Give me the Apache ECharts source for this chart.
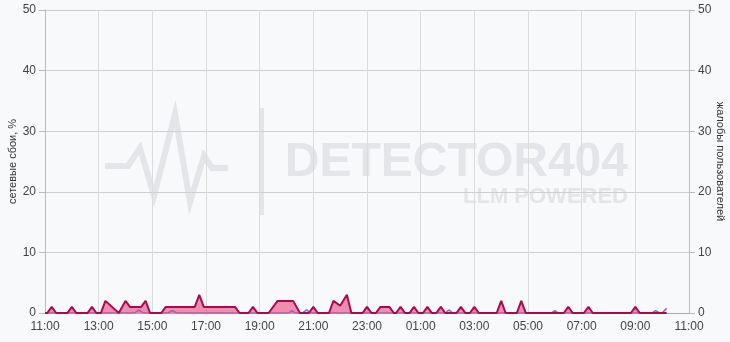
<!DOCTYPE html>
<html>
<head>
<meta charset="utf-8">
<script src="https://cdn.jsdelivr.net/npm/echarts@6/dist/echarts.min.js"></script>
<style>
html,body{margin:0;padding:0;background:#f8f9fb;}
#chart{width:730px;height:342px;}
</style>
</head>
<body>
<div id="chart"></div>
<script>
const xTickLabels = ['11:00','13:00','15:00','17:00','19:00','21:00','23:00','01:00','03:00','05:00','07:00','09:00','11:00'];

const failTimes = ['11:00','11:05','11:15','11:25','11:50','12:00','12:10','12:35','12:45','12:55',
  '13:05','13:15','13:45','14:00','14:10','14:35','14:45','14:55','15:20','15:30',
  '16:35','16:45','16:55','18:05','18:15','18:35','18:45','18:55','19:20','19:40',
  '20:15','20:30','20:50','21:00','21:10','21:35','21:45','22:00','22:15','22:25',
  '22:50','23:00','23:10','23:20','23:30','23:50','00:00','00:05','00:15','00:25',
  '00:35','00:45','00:55','01:05','01:15','01:25','01:35','01:45','01:55','02:20',
  '02:30','02:40','02:50','03:00','03:10','03:50','04:00','04:10','04:35','04:45',
  '04:55','06:20','06:30','06:40','07:05','07:15','07:25','08:50','09:00','09:10','10:10'];
const failValues = [0,0,1,0,0,1,0,0,1,0,
  0,2,0,2,1,1,2,0,0,1,
  1,3,1,1,0,0,1,0,0,2,
  2,0,0,1,0,0,2,1.2,3,0,
  0,1,0,0,1,1,0,0,1,0,
  0,1,0,0,1,0,0,1,0,0,
  1,0,0,1,0,0,2,0,0,2,
  0,0,1,0,0,1,0,0,1,0,0];

const complaintTimes = ['11:00','14:20','14:30','14:40','15:35','15:45','15:55','20:05','20:12','20:20',
  '20:35','20:45','20:55','01:55','02:03','02:12','05:52','06:00','06:08','09:37',
  '09:45','09:55','10:00','10:10'];
const complaintValues = [0,0,0.5,0,0,0.4,0,0,0.4,0,
  0,0.5,0,0,0.5,0,0,0.4,0,0,
  0.4,0,0,0.8];

function toOffset(t){
  const p = t.split(':').map(Number);
  let v = p[0]*60 + p[1] - 660;
  if (v < 0) v += 1440;
  return v;
}
const failData = failTimes.map((t,i)=>[toOffset(t), failValues[i]]);
const complaintData = complaintTimes.map((t,i)=>[toOffset(t), complaintValues[i]]);

const chart = echarts.init(document.getElementById('chart'), null, {renderer:'canvas'});
const wm = '#e3e5e9';
chart.setOption({
  backgroundColor: '#f8f9fb',
  animation: false,
  textStyle: {fontFamily: 'Liberation Sans, Arial, sans-serif'},
  graphic: [
    {type:'polyline', silent:true, z:0, shape:{points:[[105,166],[128,166],[140,148],[154,196],[175,114],[190,202],[204,156],[212,168],[228,168]]}, style:{stroke:wm, lineWidth:6, fill:null, lineJoin:'miter'}},
    {type:'rect', silent:true, z:0, shape:{x:260, y:108, width:4, height:107}, style:{fill:wm}},
    {type:'text', silent:true, z:0, right:102, top:139, style:{text:'DETECTOR404', fill:wm, font:'bold 48px "Liberation Sans", Arial, sans-serif'}},
    {type:'text', silent:true, z:0, right:102, top:186, style:{text:'LLM POWERED', fill:wm, font:'bold 22px "Liberation Sans", Arial, sans-serif'}}
  ],
  grid: {left:45, right:41, top:10, bottom:29, containLabel:false, outerBoundsMode:'none'},
  xAxis: {
    type:'value', min:0, max:1440, interval:120,
    axisLine:{show:true, lineStyle:{color:'#aaa'}},
    axisTick:{show:false},
    axisLabel:{color:'#444', fontSize:12, margin:8, formatter:v=>xTickLabels[Math.round(v/120)]},
    splitLine:{show:true, lineStyle:{color:'#dcdcdc'}}
  },
  yAxis: [
    {
      type:'value', min:0, max:50, interval:10, position:'left',
      name:'сетевые сбои, %', nameLocation:'middle', nameGap:27, nameMoveOverlap:false,
      nameTextStyle:{color:'#333', fontSize:11},
      axisLine:{show:true, lineStyle:{color:'#bbb'}},
      axisTick:{show:true, length:6, lineStyle:{color:'#bbb'}},
      axisLabel:{color:'#444', fontSize:12, margin:9},
      splitLine:{show:true, lineStyle:{color:'#cfcfcf'}}
    },
    {
      type:'value', min:0, max:50, interval:10, position:'right',
      name:'жалобы пользователей', nameLocation:'middle', nameGap:26, nameRotate:-90, nameMoveOverlap:false,
      nameTextStyle:{color:'#333', fontSize:11},
      axisLine:{show:true, lineStyle:{color:'#bbb'}},
      axisTick:{show:true, length:6, lineStyle:{color:'#bbb'}},
      axisLabel:{color:'#444', fontSize:12, margin:9},
      splitLine:{show:false}
    }
  ],
  series: [
    {
      name:'жалобы пользователей', type:'line', yAxisIndex:1, data:complaintData,
      showSymbol:false, z:2,
      lineStyle:{color:'#7a6fd8', width:1.5},
      areaStyle:{color:'#a79ff0', opacity:0.35}
    },
    {
      name:'сетевые сбои', type:'line', yAxisIndex:0, data:failData,
      showSymbol:false, z:3,
      lineStyle:{color:'#a80a4f', width:2},
      areaStyle:{color:'#e8457f', opacity:0.6}
    }
  ]
});
</script>
</body>
</html>
